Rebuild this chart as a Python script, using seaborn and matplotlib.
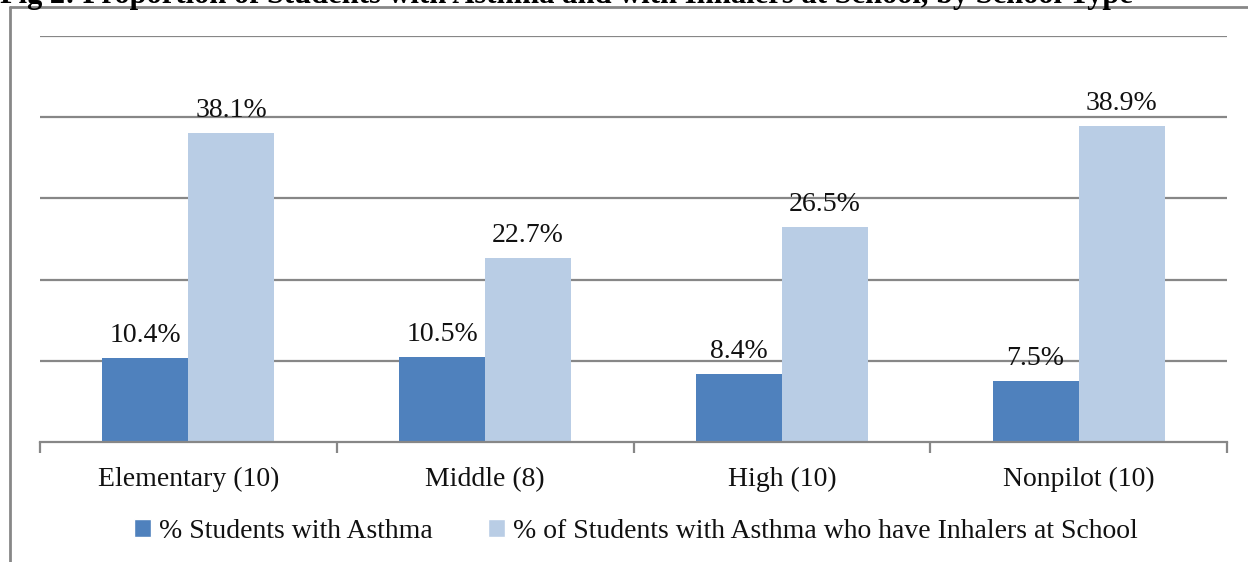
import matplotlib
matplotlib.use("Agg")
import matplotlib.pyplot as plt
import seaborn as sns
import pandas as pd
from matplotlib.lines import Line2D
from matplotlib.patches import Patch

categories = ["Elementary (10)", "Middle (8)", "High (10)", "Nonpilot (10)"]
series_names = ["% Students with Asthma",
                "% of Students with Asthma who have Inhalers at School"]
asthma = [10.4, 10.5, 8.4, 7.5]
inhalers = [38.1, 22.7, 26.5, 38.9]
title = "Fig 2: Proportion of Students with Asthma and with Inhalers at School, by School Type"
colors = ["#4F81BD", "#B9CDE5"]

df = pd.DataFrame({
    "cat": categories * 2,
    "series": [series_names[0]] * 4 + [series_names[1]] * 4,
    "val": asthma + inhalers,
})

sns.set_theme(style="white")
plt.rcParams["font.family"] = ["Liberation Serif", "DejaVu Serif"]

FS = 20
W, H = 1248, 562
fig = plt.figure(figsize=(W / 100, H / 100), dpi=100)
ax = fig.add_axes([40 / W, 1 - 442 / H, (1227 - 40) / W, (442 - 36) / H])

sns.barplot(data=df, x="cat", y="val", hue="series", order=categories,
            hue_order=series_names, palette=colors, width=0.58, ax=ax,
            saturation=1, legend=False, edgecolor="none")

for c in ax.containers:
    ax.bar_label(c, labels=[f"{v:.1f}%" for v in c.datavalues],
                 padding=7, fontsize=FS, color="#111111")

ax.set_ylim(0, 50)
ax.set_xlim(-0.5, 3.5)
ax.set_yticks([10, 20, 30, 40, 50])
ax.set_yticklabels([])
ax.tick_params(axis="y", length=0)
ax.yaxis.grid(True, color="#878787", linewidth=1.6)
ax.set_axisbelow(True)
for s in ["top", "right", "left"]:
    ax.spines[s].set_visible(False)
ax.spines["bottom"].set_color("#878787")
ax.spines["bottom"].set_linewidth(1.6)
ax.set_xlabel("")
ax.set_ylabel("")
ax.set_xticks(range(4))
ax.set_xticklabels(categories, fontsize=FS, color="#111111")
ax.tick_params(axis="x", which="major", length=0, pad=18)
ax.set_xticks([-0.5, 0.5, 1.5, 2.5, 3.5], minor=True)
ax.tick_params(axis="x", which="minor", length=8, width=1.6, color="#878787",
               direction="out", bottom=True)

handles = [Patch(facecolor=colors[0]), Patch(facecolor=colors[1])]
fig.legend(handles, series_names, loc="center", bbox_to_anchor=(636 / W, 1 - 531 / H),
           ncol=2, frameon=False, fontsize=FS, handlelength=0.6, handleheight=0.6,
           handletextpad=0.3, columnspacing=2.0, labelcolor="#111111")

# outer chart frame (left and top edges visible)
fig.add_artist(Line2D([9.5 / W, 9.5 / W], [0, 1 - 7 / H], transform=fig.transFigure,
                      color="#878787", linewidth=2))
fig.add_artist(Line2D([9.5 / W, 1], [1 - 7 / H, 1 - 7 / H], transform=fig.transFigure,
                      color="#878787", linewidth=2))

fig.text(0, 1 - 2.5 / H, title, fontsize=22, fontweight="bold", va="baseline",
         ha="left", color="#000000")

fig.savefig("out.png", dpi=100)
